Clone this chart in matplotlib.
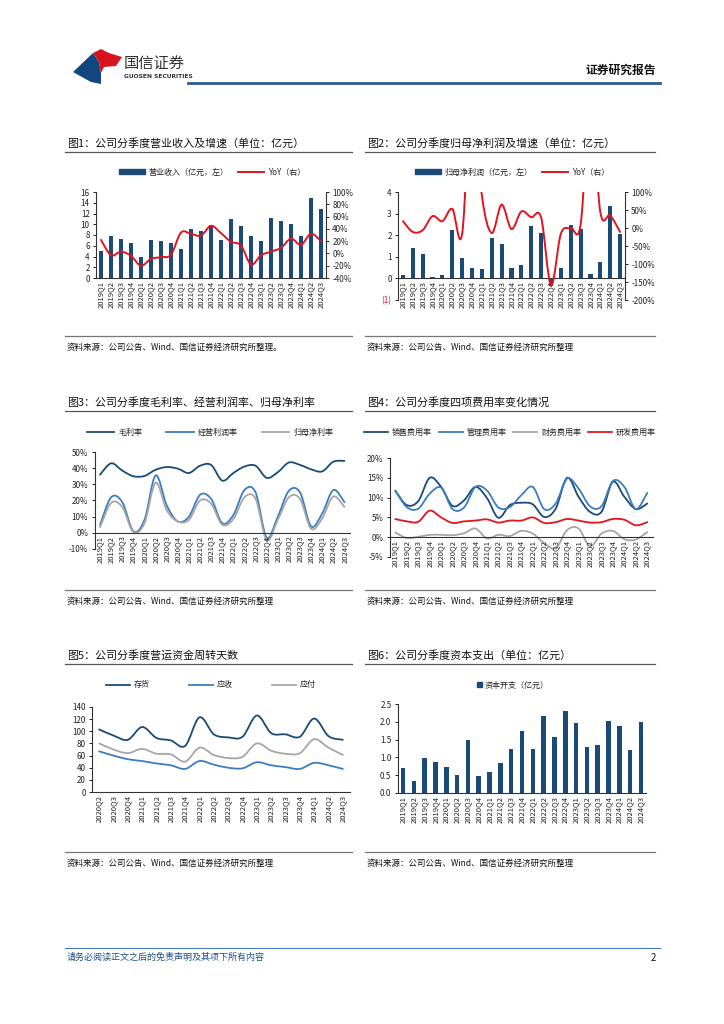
import numpy as np
import matplotlib
matplotlib.use('Agg')
import matplotlib.pyplot as plt
from matplotlib.path import Path
from matplotlib.patches import PathPatch, Polygon, Patch
from matplotlib.lines import Line2D
from matplotlib.ticker import FuncFormatter

plt.rcParams['font.family'] = ['Noto Sans CJK SC', 'DejaVu Sans']
plt.rcParams['axes.unicode_minus'] = False

W, H = 724, 1024

quarters = ['2019Q1', '2019Q2', '2019Q3', '2019Q4', '2020Q1', '2020Q2', '2020Q3', '2020Q4',
            '2021Q1', '2021Q2', '2021Q3', '2021Q4', '2022Q1', '2022Q2', '2022Q3', '2022Q4',
            '2023Q1', '2023Q2', '2023Q3', '2023Q4', '2024Q1', '2024Q2', '2024Q3']
quarters_wc = quarters[5:]

# fig1: revenue (100m CNY) and yoy (%)
revenue = [5.0, 7.9, 7.2, 6.6, 3.9, 7.1, 6.8, 6.6, 5.4, 9.2, 8.7, 9.8,
           7.1, 11.0, 9.7, 7.9, 6.9, 11.1, 10.6, 10.0, 7.9, 14.9, 12.8]
revenue_yoy = [22, -3, 3, -4, -20, -9, -6, -2, 34, 32, 29, 45,
               33, 19, 13, -18, -3, 3, 9, 24, 14, 32, 20]

# fig2: net profit attributable (100m CNY) and yoy (%)
profit = [0.15, 1.42, 1.12, 0.05, 0.18, 2.22, 0.93, 0.47, 0.42, 1.87, 1.58, 0.47,
          0.60, 2.42, 2.08, -0.35, 0.50, 2.45, 2.28, 0.22, 0.75, 3.35, 2.05]
profit_yoy = [19, -11, -6, 33, 19, 53, -16, 400, 90, -14, 65, -3,
              46, 30, 29, -159, -16, 0, 9, 350, 44, 35, -11]

# fig3: margins (%)
gross_margin = [36, 43, 38.5, 35, 35.2, 39, 40.7, 39.7, 37, 41.5, 42, 32.3,
                37, 41, 41.5, 34, 37.5, 43.5, 42, 39.3, 38, 44, 44.5]
op_margin = [5, 22, 19, 1, 8, 35.5, 17, 7, 10, 23.5, 21, 6,
             11, 26.5, 25, -3, 10, 26, 25, 4, 12, 26.5, 19]
net_margin = [3.5, 18.5, 16, 0.5, 6, 31, 14, 7, 8, 20, 18, 5,
              8.5, 22, 21, -4.5, 8, 22, 21, 2.5, 9, 22.5, 16]

# fig4: expense ratios (%)
sales_exp = [11.7, 8.1, 9.1, 15.0, 12.7, 7.9, 9.3, 12.7, 9.9, 4.9, 8.1, 8.7,
             8.3, 5.1, 7.2, 15.0, 10.2, 6.4, 6.4, 14.0, 10.2, 7.1, 8.5]
admin_exp = [11.8, 7.6, 7.2, 11.0, 12.5, 7.1, 7.5, 12.7, 11.8, 7.5, 7.6, 10.6,
             12.7, 7.1, 8.5, 14.8, 12.3, 7.8, 7.8, 14.2, 12.7, 7.1, 11.2]
fin_exp = [1.2, -0.2, 0.1, 0.6, 0.6, 0.5, 1.0, 2.2, -0.3, 0.6, 0.3, 1.6,
           0.9, -1.5, -2.8, 1.8, 2.2, -2.3, 0.9, 1.6, -0.5, -0.6, 1.3]
rd_exp = [4.6, 4.0, 3.9, 6.7, 5.0, 3.6, 4.0, 4.2, 4.5, 3.7, 4.2, 4.2,
          5.0, 3.6, 3.8, 4.6, 4.2, 3.7, 3.8, 4.6, 4.4, 3.0, 3.8]

# fig5: working capital days
inv_days = [103, 93, 86, 107, 89, 85, 76, 123, 95, 90, 91, 126, 97, 95, 91, 121, 92, 86]
rec_days = [67, 60, 54, 51, 47, 44, 38, 51, 45, 40, 39, 49, 44, 41, 38, 48, 44, 38]
pay_days = [80, 70, 64, 71, 63, 62, 50, 73, 61, 56, 58, 80, 68, 63, 64, 87, 73, 61]

# fig6: capex (100m CNY)
capex = [0.70, 0.34, 0.97, 0.88, 0.74, 0.51, 1.50, 0.48, 0.60, 0.85, 1.25, 1.75,
         1.25, 2.15, 1.58, 2.30, 1.98, 1.30, 1.35, 2.03, 1.87, 1.21, 2.00]

NAVY = '#1b4a78'
BLUE = '#3b7dc0'
GREY = '#a6a6a6'
RED = '#e3141e'
TXT = '#222222'


def fx(x):
    return x / W


def fy(y):
    return 1 - y / H


def rect(x0, y0, x1, y1):
    return [x0 / W, 1 - y1 / H, (x1 - x0) / W, (y1 - y0) / H]


def smooth_path(xs, ys):
    pts = np.column_stack([xs, ys]).astype(float)
    n = len(pts)
    verts = [pts[0]]
    codes = [Path.MOVETO]
    for i in range(n - 1):
        p0 = pts[i - 1] if i > 0 else pts[i]
        p1, p2 = pts[i], pts[i + 1]
        p3 = pts[i + 2] if i + 2 < n else pts[i + 1]
        verts += [p1 + (p2 - p0) / 6, p2 - (p3 - p1) / 6, p2]
        codes += [Path.CURVE4] * 3
    return Path(verts, codes)


def smooth_line(ax, ys, color, lw=1.3):
    xs = np.arange(len(ys))
    ax.add_patch(PathPatch(smooth_path(xs, ys), facecolor='none', edgecolor=color,
                           lw=lw, capstyle='round', joinstyle='round'))


def style(ax, labels, zero_axis=False):
    for s in ['top', 'right']:
        ax.spines[s].set_visible(False)
    if zero_axis:
        ax.spines['bottom'].set_position(('data', 0))
    for s in ['left', 'bottom']:
        ax.spines[s].set_color('#333333')
        ax.spines[s].set_linewidth(0.8)
    ax.set_xticks(np.arange(len(labels)))
    ax.set_xticklabels(labels, rotation=90, fontsize=5.5, color=TXT)
    ax.set_xlim(-0.5, len(labels) - 0.5)
    ax.tick_params(axis='x', length=0, pad=2)
    ax.tick_params(axis='y', labelsize=5.8, length=2.5, width=0.7, colors=TXT, pad=2)
    ax.set_facecolor('none')


def style_right(ax):
    for s in ['top', 'left', 'bottom']:
        ax.spines[s].set_visible(False)
    ax.spines['right'].set_color('#333333')
    ax.spines['right'].set_linewidth(0.8)
    ax.tick_params(axis='y', labelsize=5.8, length=2.5, width=0.7, colors=TXT, pad=2)


def pct(x, pos):
    return '{:.0f}%'.format(x)


fig = plt.figure(figsize=(W / 100, H / 100), dpi=100)

# ---------- header ----------
fig.patches.append(Polygon([(fx(73), fy(72)), (fx(93), fy(53)), (fx(99), fy(62)), (fx(101), fy(73)),
                            (fx(101), fy(84)), (fx(91), fy(82))],
                           closed=True, transform=fig.transFigure, facecolor='#12467e', edgecolor='none'))
fig.patches.append(Polygon([(fx(93), fy(53)), (fx(101), fy(49)), (fx(109), fy(53)), (fx(122), fy(57)),
                            (fx(116), fy(66)), (fx(104), fy(67)), (fx(101), fy(73)), (fx(99), fy(62))],
                           closed=True, transform=fig.transFigure, facecolor='#d7141d', edgecolor='none'))
fig.text(fx(124), fy(63), '国信证券', fontsize=11, color='#333333', va='center', ha='left')
fig.text(fx(124), fy(77), 'GUOSEN SECURITIES', fontsize=4.3, color='#333333', va='center', ha='left',
         fontweight='bold', family='DejaVu Sans')
fig.text(fx(656), fy(70), '证券研究报告', fontsize=8.5, color='#111111', va='center', ha='right',
         fontweight='bold')
fig.add_artist(Line2D([fx(188), fx(660)], [fy(83), fy(83)], color='#2a5d91', lw=2))

# ---------- footer ----------
fig.add_artist(Line2D([fx(65), fx(660)], [fy(948), fy(948)], color='#4a7db5', lw=0.8))
fig.text(fx(67), fy(957), '请务必阅读正文之后的免责声明及其项下所有内容', fontsize=6.5,
         color='#1f4e89', va='center', ha='left', style='italic')
fig.text(fx(656), fy(958), '2', fontsize=7, color='#111111', va='center', ha='right')

# ---------- panel frames ----------
panels = [
    (67, 65, 352, 143, 152, 336, 347, '图1：公司分季度营业收入及增速（单位：亿元）',
     '资料来源：公司公告、Wind、国信证券经济研究所整理。'),
    (367, 365, 655, 143, 152, 336, 347, '图2：公司分季度归母净利润及增速（单位：亿元）',
     '资料来源：公司公告、Wind、国信证券经济研究所整理'),
    (67, 65, 352, 402, 411, 590, 601, '图3：公司分季度毛利率、经营利润率、归母净利率',
     '资料来源：公司公告、Wind、国信证券经济研究所整理'),
    (367, 365, 655, 402, 411, 590, 601, '图4：公司分季度四项费用率变化情况',
     '资料来源：公司公告、Wind、国信证券经济研究所整理'),
    (67, 65, 352, 655, 664, 852, 863, '图5：公司分季度营运资金周转天数',
     '资料来源：公司公告、Wind、国信证券经济研究所整理'),
    (367, 365, 655, 655, 664, 852, 863, '图6：公司分季度资本支出（单位：亿元）',
     '资料来源：公司公告、Wind、国信证券经济研究所整理'),
]
for tx, lx0, lx1, ty, uy, sy, sty, title, src in panels:
    fig.text(fx(tx), fy(ty), title, fontsize=7.9, color='#111111', va='center', ha='left')
    fig.add_artist(Line2D([fx(lx0), fx(lx1)], [fy(uy), fy(uy)], color='#555555', lw=0.9))
    fig.add_artist(Line2D([fx(lx0), fx(lx1)], [fy(sy), fy(sy)], color='#777777', lw=0.9))
    fig.text(fx(tx), fy(sty), src, fontsize=6.1, color='#111111', va='center', ha='left')

x = np.arange(len(quarters))

# ---------- fig1 ----------
ax1 = fig.add_axes(rect(96, 192, 326, 278))
ax1.bar(x, revenue, width=0.42, color=NAVY)
ax1.set_ylim(0, 16)
ax1.set_yticks(np.arange(0, 17, 2))
style(ax1, quarters)
ax1b = ax1.twinx()
ax1b.set_ylim(-40, 100)
ax1b.set_yticks(np.arange(-40, 101, 20))
ax1b.yaxis.set_major_formatter(FuncFormatter(pct))
smooth_line(ax1b, revenue_yoy, RED, lw=1.4)
style_right(ax1b)
fig.legend([Patch(color=NAVY), Line2D([], [], color=RED, lw=1.4)],
           ['营业收入（亿元，左）', 'YoY（右）'], loc='center', bbox_to_anchor=(fx(212), fy(172)),
           ncol=2, frameon=False, fontsize=5.8, handlelength=3.2, handleheight=0.5,
           columnspacing=1.2, handletextpad=0.5, labelcolor=TXT)

# ---------- fig2 ----------
ax2 = fig.add_axes(rect(398, 192, 625, 300))
ax2.bar(x, profit, width=0.42, color=NAVY)
ax2.set_ylim(-1, 4)
ax2.set_yticks(np.arange(-1, 5, 1))
style(ax2, quarters, zero_axis=True)
ax2.set_yticklabels(['(1)', '0', '1', '2', '3', '4'])
ax2.get_yticklabels()[0].set_color(RED)
ax2b = ax2.twinx()
ax2b.set_ylim(-200, 100)
ax2b.set_yticks(np.arange(-200, 101, 50))
ax2b.yaxis.set_major_formatter(FuncFormatter(pct))
smooth_line(ax2b, profit_yoy, RED, lw=1.4)
style_right(ax2b)
fig.legend([Patch(color=NAVY), Line2D([], [], color=RED, lw=1.4)],
           ['归母净利润（亿元，左）', 'YoY（右）'], loc='center', bbox_to_anchor=(fx(512), fy(172)),
           ncol=2, frameon=False, fontsize=5.8, handlelength=3.2, handleheight=0.5,
           columnspacing=1.2, handletextpad=0.5, labelcolor=TXT)

# ---------- fig3 ----------
ax3 = fig.add_axes(rect(94.5, 452, 350, 549))
ax3.set_ylim(-10, 50)
ax3.set_yticks(np.arange(-10, 51, 10))
ax3.yaxis.set_major_formatter(FuncFormatter(pct))
style(ax3, quarters, zero_axis=True)
smooth_line(ax3, gross_margin, NAVY)
smooth_line(ax3, op_margin, BLUE)
smooth_line(ax3, net_margin, GREY)
fig.legend([Line2D([], [], color=c, lw=1.3) for c in (NAVY, BLUE, GREY)],
           ['毛利率', '经营利润率', '归母净利率'], loc='center', bbox_to_anchor=(fx(210), fy(432)),
           ncol=3, frameon=False, fontsize=5.8, handlelength=3.4, columnspacing=3.0,
           handletextpad=0.5, labelcolor=TXT)

# ---------- fig4 ----------
ax4 = fig.add_axes(rect(389.6, 458, 653, 557))
ax4.set_ylim(-5, 20)
ax4.set_yticks(np.arange(-5, 21, 5))
ax4.yaxis.set_major_formatter(FuncFormatter(pct))
style(ax4, quarters, zero_axis=True)
smooth_line(ax4, sales_exp, NAVY)
smooth_line(ax4, admin_exp, BLUE)
smooth_line(ax4, fin_exp, GREY)
smooth_line(ax4, rd_exp, RED)
fig.legend([Line2D([], [], color=c, lw=1.3) for c in (NAVY, BLUE, GREY, RED)],
           ['销售费用率', '管理费用率', '财务费用率', '研发费用率'], loc='center',
           bbox_to_anchor=(fx(510), fy(432)), ncol=4, frameon=False, fontsize=5.8,
           handlelength=3.0, columnspacing=0.8, handletextpad=0.5, labelcolor=TXT)

# ---------- fig5 ----------
ax5 = fig.add_axes(rect(92, 707, 350, 792))
ax5.set_ylim(0, 140)
ax5.set_yticks(np.arange(0, 141, 20))
style(ax5, quarters_wc)
smooth_line(ax5, inv_days, NAVY)
smooth_line(ax5, rec_days, BLUE)
smooth_line(ax5, pay_days, GREY)
fig.legend([Line2D([], [], color=c, lw=1.3) for c in (NAVY, BLUE, GREY)],
           ['存货', '应收', '应付'], loc='center', bbox_to_anchor=(fx(211), fy(685)),
           ncol=3, frameon=False, fontsize=5.8, handlelength=3.0, columnspacing=4.8,
           handletextpad=0.5, labelcolor=TXT)

# ---------- fig6 ----------
ax6 = fig.add_axes(rect(397.6, 704, 646.4, 793))
ax6.bar(x, capex, width=0.42, color=NAVY)
ax6.set_ylim(0, 2.5)
ax6.set_yticks(np.arange(0, 2.51, 0.5))
ax6.yaxis.set_major_formatter(FuncFormatter(lambda v, p: '{:.1f}'.format(v)))
style(ax6, quarters)
fig.legend([Patch(color=NAVY)], ['资本开支（亿元）'], loc='center',
           bbox_to_anchor=(fx(513), fy(685)), frameon=False, fontsize=5.8,
           handlelength=0.6, handleheight=0.6, handletextpad=0.4, labelcolor=TXT)

fig.savefig('out.png', dpi=100)
